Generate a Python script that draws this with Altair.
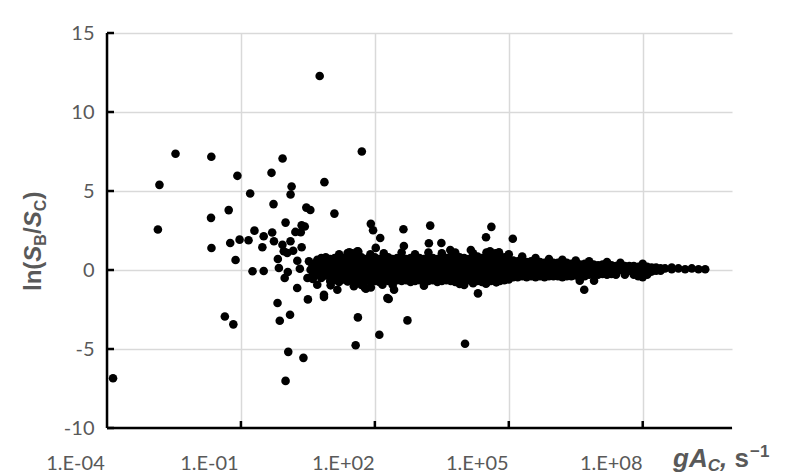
import json
import altair as alt
import pandas as pd

# ---------------- data ----------------
# axis ticks
x_tick_vals = [-4, -1, 2, 5, 8]                       # log10(gA_C)
x_tick_labels = ["1.E-04", "1.E-01", "1.E+02", "1.E+05", "1.E+08"]
y_tick_vals = [-10, -5, 0, 5, 10, 15]

# isolated points: log10(gA_C) and ln(S_B/S_C)
out_lx = [-3.865, -2.86, -2.825, -2.465, -1.663, -1.66, -1.67, -1.36, -1.17, -1.274,
          -1.24, -1.12, -1.079, -1.03, -0.83, -0.793, -0.74, -0.697, -0.52, -0.49,
          -0.49, -0.315, -0.30, -0.27, -0.26, -0.18, -0.173, -0.15, -0.13, -0.07,
          -0.067, -0.04, -0.02, 0.0, 0.0, 0.038, 0.05, 0.06, 0.10, 0.11,
          0.112, 0.135, 0.17, 0.22, 0.26, 0.263, 0.32, 0.34, 0.36, 0.36,
          0.40, 0.43, 0.465, 0.49, 0.50, 0.524, 0.555, 0.56, 0.61, 0.71,
          0.712, 0.75, 0.764, 0.787, 0.80, 0.86, 0.86, 0.87, 0.94, 1.01,
          1.01, 1.094, 1.16, 1.16, 1.22, 1.24, 1.39, 1.39, 1.43, 1.46,
          1.53, 1.57, 1.61, 1.62, 1.63, 1.708, 1.78, 1.80, 1.91, 1.91,
          1.96, 2.02, 2.10, 2.12, 2.17, 2.28, 2.31, 2.43, 2.64, 2.65,
          2.73, 3.21, 3.24, 3.49, 3.69, 3.78, 3.90, 4.02, 4.15, 4.20,
          4.31, 4.49, 4.49, 4.58, 4.61, 4.72, 4.78, 5.09, 6.59, 6.69,
          6.91]
out_y = [-6.85, 2.56, 5.39, 7.36, 7.17, 1.39, 3.30, -2.94, -3.44, 3.79,
         1.71, 0.63, 5.96, 1.92, 1.88, 4.84, -0.08, 2.49, 1.44, 2.14,
         -0.06, 6.15, 2.37, 4.17, 1.82, -2.09, 0.70, 0.13, -3.21, 1.60,
         7.06, 1.19, -0.51, 3.00, -7.02, 1.08, -0.13, -5.18, -2.83, 1.82,
         4.78, 5.28, 1.22, 2.41, -1.14, 0.59, 0.08, 2.39, 2.83, 1.44,
         -5.56, 2.75, 3.95, -0.51, -1.86, 0.55, 3.80, 0.02, -0.57, -0.93,
         0.65, 0.02, 12.28, 0.34, 0.76, -1.71, -1.57, 5.56, 0.02, -0.97,
         0.23, 3.57, 0.65, -1.25, 0.72, 0.34, 1.08, -0.72, 1.12, 0.80,
         -1.03, -4.76, 1.19, -3.00, 1.16, 7.50, -1.14, -1.19, 2.92, -1.10,
         2.52, 1.40, -4.10, 2.03, -0.93, -1.78, -1.84, -1.25, 2.58, 1.52,
         -3.19, 1.69, 2.81, 1.71, 1.27, -0.68, -0.89, -4.67, 1.27, -0.84,
         -1.48, 2.07, -0.87, 1.19, 2.73, -0.78, 1.12, 1.98, -0.68, -1.25,
         -0.68]

# dense band: column positions (log10 gA_C) and the ln values read in each column
band_lx = [0.6, 0.7, 0.8, 0.9, 1.0, 1.1, 1.2, 1.3, 1.4, 1.5,
           1.6, 1.7, 1.8, 1.9, 2.0, 2.1, 2.2, 2.3, 2.4, 2.5,
           2.6, 2.7, 2.8, 2.9, 3.0, 3.1, 3.2, 3.3, 3.4, 3.5,
           3.6, 3.7, 3.8, 3.9, 4.0, 4.1, 4.2, 4.3, 4.4, 4.5,
           4.6, 4.7, 4.8, 4.9, 5.0, 5.1, 5.2, 5.3, 5.4, 5.5,
           5.6, 5.7, 5.8, 5.9, 6.0, 6.1, 6.2, 6.3, 6.4, 6.5,
           6.6, 6.7, 6.8, 6.9, 7.0, 7.1, 7.2, 7.3, 7.4, 7.5,
           7.6, 7.7, 7.8, 7.9, 8.0, 8.1, 8.2, 8.3, 8.4, 8.5,
           8.65, 8.8, 8.95, 9.1, 9.25, 9.4]
band_y = [[0.35, -0.05, -0.4], [0.5, 0.1, -0.3], [0.3, -0.1, 0.7, -0.5], [0.45, 0.05, -0.35, 0.8],
          [0.7, 0.35, 0.0, -0.35, -0.7], [0.75, 0.4, 0.05, -0.3, -0.65], [0.65, 0.3, -0.05, -0.4, -0.75, 1.0],
          [0.75, 0.4, 0.05, -0.3, -0.6], [0.8, 0.35, 0.0, -0.35, -0.7], [0.7, 0.4, 0.05, -0.3, -0.65, 1.05],
          [0.75, 0.35, 0.0, -0.35, -0.75], [0.8, 0.4, 0.05, -0.3, -0.65, -0.95], [0.7, 0.35, -0.05, -0.4, -0.7],
          [0.75, 0.4, 0.05, -0.3, -0.65, 1.0], [0.8, 0.35, 0.0, -0.35, -0.7], [0.7, 0.4, 0.05, -0.3, -0.75],
          [0.75, 0.35, 0.0, -0.35, -0.65, 1.05], [0.8, 0.4, 0.05, -0.3, -0.7], [0.7, 0.35, -0.05, -0.4, -0.75, -0.95],
          [0.75, 0.4, 0.05, -0.3, -0.65],
          [0.8, 0.35, 0.0, -0.35, -0.7, 1.1], [0.7, 0.4, 0.05, -0.3, -0.65], [0.75, 0.35, 0.0, -0.35, -0.75],
          [0.8, 0.4, 0.05, -0.3, -0.7, 1.0], [0.75, 0.35, 0.0, -0.35, -0.65], [0.7, 0.4, 0.05, -0.3, -0.75, -1.0],
          [0.8, 0.35, 0.0, -0.35, -0.7, 1.1], [0.75, 0.4, 0.05, -0.3, -0.65], [0.7, 0.35, -0.05, -0.4, -0.75],
          [0.8, 0.4, 0.05, -0.3, -0.7, 1.05],
          [0.75, 0.35, 0.0, -0.35, -0.65], [0.85, 0.4, 0.05, -0.3, -0.7], [0.75, 0.35, 0.0, -0.35, -0.75, 1.1],
          [0.8, 0.4, 0.05, -0.3, -0.65], [0.75, 0.35, 0.0, -0.35, -0.7, -0.95], [0.7, 0.4, 0.05, -0.3, -0.65],
          [0.8, 0.35, 0.0, -0.35, -0.75, 1.05], [0.85, 0.4, 0.05, -0.3, -0.7], [0.75, 0.35, -0.05, -0.4, -0.75],
          [0.8, 0.4, 0.05, -0.3, -0.65, 1.1],
          [0.75, 0.35, 0.0, -0.35, -0.7], [0.8, 0.4, 0.05, -0.3, -0.65, 1.05], [0.75, 0.35, 0.0, -0.35, -0.7],
          [0.8, 0.4, 0.05, -0.3, -0.65], [0.7, 0.35, 0.0, -0.35, -0.6, 1.0], [0.6, 0.25, -0.1, -0.45],
          [0.55, 0.2, -0.15, -0.45], [0.6, 0.25, -0.1, -0.4, 0.85],
          [0.5, 0.15, -0.2, -0.45], [0.55, 0.2, -0.1, -0.4],
          [0.5, 0.15, -0.2, -0.45, 0.75], [0.5, 0.15, -0.15, -0.4], [0.45, 0.1, -0.2, -0.45], [0.5, 0.15, -0.15, -0.4, 0.7],
          [0.45, 0.1, -0.2, -0.4], [0.45, 0.1, -0.15, -0.4], [0.4, 0.05, -0.2, -0.45, 0.65], [0.45, 0.1, -0.2, -0.4],
          [0.4, 0.05, -0.25, -0.4], [0.4, 0.1, -0.2, -0.35, 0.6],
          [0.35, 0.05, -0.25], [0.4, 0.05, -0.25, -0.4], [0.35, 0.0, -0.3, 0.55], [0.35, 0.05, -0.25],
          [0.3, 0.0, -0.3], [0.35, 0.0, -0.25], [0.3, 0.0, -0.3, 0.5], [0.3, 0.0, -0.25],
          [0.25, -0.05, -0.3], [0.3, 0.0, 0.45],
          [0.25, -0.05, -0.3], [0.25, -0.05], [0.25, -0.05, -0.3], [0.2, -0.1, -0.4],
          [0.25, -0.05, 0.4, -0.45], [0.2, -0.1, -0.3], [0.15, -0.1], [0.15, -0.05],
          [0.1, -0.05], [0.1],
          [0.05, 0.15], [0.1], [0.05], [0.1], [0.05], [0.05]]

# ---------------- table ----------------
rows = [{"lx": a, "v": b} for a, b in zip(out_lx, out_y)]
for a, ys in zip(band_lx, band_y):
    for b in ys:
        rows.append({"lx": a, "v": b})
df = pd.DataFrame(rows)

W, H = 625, 395
GRID = "#d9d9d9"
LABEL = "#595959"
LFONT = "Lato"
TFONT = "Liberation Sans"

x_scale = alt.Scale(domain=[-4, 10], nice=False, zero=False)
y_scale = alt.Scale(domain=[-10, 15], nice=False, zero=False)

label_expr = "%s[indexof(%s, datum.value)]" % (json.dumps(x_tick_labels), json.dumps(x_tick_vals))

x_axis = alt.Axis(values=x_tick_vals, labelExpr=label_expr, title=None,
                  grid=True, gridColor=GRID, gridWidth=1.5, domain=False, ticks=False,
                  labelPadding=25, labelOffset=-32, labelFontSize=20, labelColor=LABEL,
                  labelFont=LFONT, labelFlush=False)
y_axis = alt.Axis(values=y_tick_vals, labelExpr="'' + datum.value", title=None,
                  grid=True, gridColor=GRID, gridWidth=1.5, domain=False, ticks=False,
                  labelPadding=13, labelFontSize=20, labelColor=LABEL,
                  labelFont=LFONT)

points = alt.Chart(df).mark_circle(size=74, color="black", opacity=1).encode(
    x=alt.X("lx:Q", scale=x_scale, axis=x_axis),
    y=alt.Y("v:Q", scale=y_scale, axis=y_axis),
)

# black axis lines and inward tick marks
y_line = alt.Chart(pd.DataFrame({"lx": [-4]})).mark_rule(color="black", strokeWidth=2.5).encode(
    x=alt.X("lx:Q", scale=x_scale, axis=x_axis))
x_line = alt.Chart(pd.DataFrame({"v": [-10]})).mark_rule(color="black", strokeWidth=2.5).encode(
    y=alt.Y("v:Q", scale=y_scale, axis=y_axis))
ytick = alt.Chart(pd.DataFrame({"v": y_tick_vals})).mark_rule(color="black", strokeWidth=2.5).encode(
    y=alt.Y("v:Q", scale=y_scale, axis=y_axis), x=alt.value(0), x2=alt.value(7))
xtick = alt.Chart(pd.DataFrame({"lx": x_tick_vals[1:]})).mark_rule(color="black", strokeWidth=2.5).encode(
    x=alt.X("lx:Q", scale=x_scale, axis=x_axis), y=alt.value(H), y2=alt.value(H - 7))


def txt(s, x, y, size, italic=False, angle=0):
    kw = dict(align="left", baseline="alphabetic", font=TFONT, fontSize=size,
              fontWeight="bold", color=LABEL)
    if italic:
        kw["fontStyle"] = "italic"
    if angle:
        kw["angle"] = angle
    return alt.Chart(pd.DataFrame({"t": [s]})).mark_text(**kw).encode(
        text="t:N", x=alt.value(x), y=alt.value(y))


# y title  ln(S_B/S_C), rotated
yb = -66
y0 = 258
ypieces = [
    txt("ln(", yb, y0, 24, angle=270),
    txt("S", yb, y0 - 29.3, 24, italic=True, angle=270),
    txt("B", yb + 5, y0 - 45.3, 16, angle=270),
    txt("/", yb, y0 - 57.0, 24, angle=270),
    txt("S", yb, y0 - 63.7, 24, italic=True, angle=270),
    txt("C", yb + 5, y0 - 79.7, 16, angle=270),
    txt(")", yb, y0 - 91.5, 24, angle=270),
]

# x title  gA_C, s^-1
xb = 566
xy = 434
xpieces = [
    txt("gA", xb, xy, 26, italic=True),
    txt("C", xb + 34.7, xy + 4, 17, italic=True),
    txt(",", xb + 47.0, xy, 26, italic=True),
    txt("s", xb + 61.4, xy, 26),
    txt("\u22121", xb + 77.0, xy - 10, 17),
]

chart = alt.layer(points, y_line, x_line, ytick, xtick, *ypieces, *xpieces).properties(
    width=W, height=H,
    padding={"left": 99, "top": 25, "right": 50, "bottom": 47},
    autosize=alt.AutoSizeParams(type="none"),
    background="white",
).configure_view(stroke=None)

chart.save("out.html", embed_options={"renderer": "svg", "actions": False})
